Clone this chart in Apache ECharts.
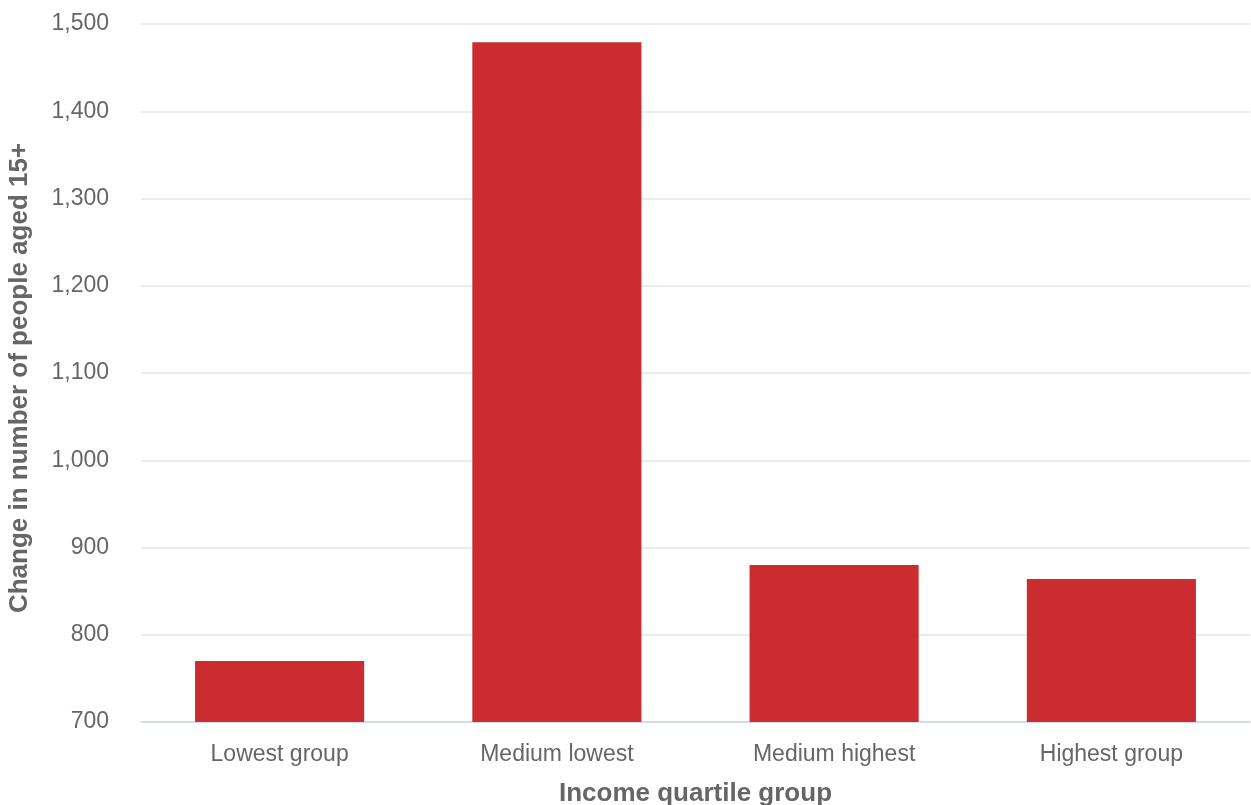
<!DOCTYPE html>
<html><head><meta charset="utf-8">
<script src="https://cdn.jsdelivr.net/npm/echarts@6/dist/echarts.min.js"></script>
<style>html,body{margin:0;padding:0;background:#fff}#c{width:1251px;height:805px}</style>
</head><body><div id="c"></div>
<script>
const categories = ["Lowest group", "Medium lowest", "Medium highest", "Highest group"];
const values = [770, 1479, 880, 864];
const yTicks = [700, 800, 900, 1000, 1100, 1200, 1300, 1400, 1500];

const chart = echarts.init(document.getElementById('c'));
chart.setOption({
  animation: false,
  grid: {left: 141, right: 1, top: 24, bottom: 83, outerBoundsMode: 'none', containLabel: false},
  xAxis: {
    type: 'category', data: categories,
    name: 'Income quartile group', nameLocation: 'middle', nameGap: 59,
    nameTextStyle: {color: '#666', fontSize: 26, fontWeight: 'bold', fontFamily: 'Liberation Sans, Arial'},
    axisLine: {lineStyle: {color: '#ccd6eb', width: 1.5}},
    axisTick: {alignWithLabel: true, length: 15, lineStyle: {color: '#ccd6eb', width: 1.5}},
    axisLabel: {color: '#666', fontSize: 23, margin: 21, fontFamily: 'Liberation Sans, Arial'}
  },
  yAxis: {
    type: 'value', min: yTicks[0], max: yTicks[yTicks.length-1], interval: 100,
    name: 'Change in number of people aged 15+', nameLocation: 'middle', nameGap: 108,
    nameTextStyle: {color: '#666', fontSize: 26, fontWeight: 'bold', fontFamily: 'Liberation Sans, Arial', padding: [0, 10, 0, 0]},
    axisLine: {show: false}, axisTick: {show: false},
    splitLine: {lineStyle: {color: '#e6e6e6', width: 1.5}},
    axisLabel: {color: '#666', fontSize: 23, margin: 32, fontFamily: 'Liberation Sans, Arial',
      formatter: v => v.toLocaleString('en-US')}
  },
  series: [{
    type: 'bar', data: values, barWidth: '61%',
    itemStyle: {color: '#cb2c30'}
  }]
});
</script></body></html>
